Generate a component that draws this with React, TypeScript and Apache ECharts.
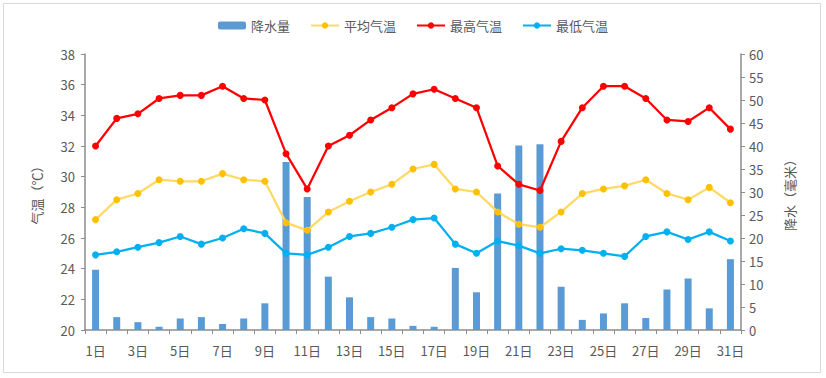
import React, { useEffect, useRef } from "react";
import * as echarts from "echarts";

const days = Array.from({ length: 31 }, (_, i) => `${i + 1}日`);
const rainfall = [13.1, 2.8, 1.7, 0.7, 2.5, 2.8, 1.3, 2.5, 5.8, 36.5, 28.9, 11.6, 7.1, 2.8, 2.5, 0.9, 0.7, 13.5, 8.2, 29.7, 40.1, 40.4, 9.4, 2.2, 3.6, 5.8, 2.6, 8.8, 11.2, 4.7, 15.4];
const avgTemp = [27.2, 28.5, 28.9, 29.8, 29.7, 29.7, 30.2, 29.8, 29.7, 27.0, 26.5, 27.7, 28.4, 29.0, 29.5, 30.5, 30.8, 29.2, 29.0, 27.7, 26.9, 26.7, 27.7, 28.9, 29.2, 29.4, 29.8, 28.9, 28.5, 29.3, 28.3];
const maxTemp = [32.0, 33.8, 34.1, 35.1, 35.3, 35.3, 35.9, 35.1, 35.0, 31.5, 29.2, 32.0, 32.7, 33.7, 34.5, 35.4, 35.7, 35.1, 34.5, 30.7, 29.5, 29.1, 32.3, 34.5, 35.9, 35.9, 35.1, 33.7, 33.6, 34.5, 33.1];
const minTemp = [24.9, 25.1, 25.4, 25.7, 26.1, 25.6, 26.0, 26.6, 26.3, 25.0, 24.9, 25.4, 26.1, 26.3, 26.7, 27.2, 27.3, 25.6, 25.0, 25.8, 25.5, 25.0, 25.3, 25.2, 25.0, 24.8, 26.1, 26.4, 25.9, 26.4, 25.8];

const FONT = "'Noto Sans CJK SC', 'Noto Sans', sans-serif";
const TXT = "#595959";
const AX = "#8c8c8c";

export default function App() {
  const ref = useRef<HTMLDivElement>(null);
  useEffect(() => {
    const chart = echarts.init(ref.current!, null, { renderer: "svg" });
    const lineSeries = (name: string, data: number[], lineColor: string, dotColor: string) => ({
      name,
      type: "line",
      yAxisIndex: 0,
      data,
      symbol: "circle",
      symbolSize: 7,
      lineStyle: { color: lineColor, width: 2.25 },
      itemStyle: { color: dotColor },
      z: 3,
    });
    chart.setOption({
      animation: false,
      textStyle: { fontFamily: FONT },
      graphic: [
        {
          type: "rect",
          shape: { x: 3.5, y: 3.5, width: 817, height: 369 },
          style: { fill: "none", stroke: "#d9d9d9", lineWidth: 1 },
          silent: true,
        },
      ],
      legend: {
        top: 14,
        left: "center",
        itemWidth: 28,
        itemHeight: 8,
        itemGap: 20,
        textStyle: { color: TXT, fontSize: 13, fontFamily: FONT },
        data: ["降水量", "平均气温", "最高气温", "最低气温"],
      },
      grid: { left: 85, right: 85, top: 54, bottom: 48 },
      xAxis: {
        type: "category",
        data: days,
        boundaryGap: true,
        axisLine: { lineStyle: { color: AX, width: 1.5 } },
        axisTick: { show: true, interval: 0, length: 4, lineStyle: { color: AX } },
        axisLabel: { interval: 1, color: TXT, fontSize: 13, margin: 14, fontFamily: FONT },
      },
      yAxis: [
        {
          type: "value",
          min: 20,
          max: 38,
          interval: 2,
          name: "气温（℃）",
          nameLocation: "middle",
          nameRotate: 90,
          nameGap: 42,
          nameTextStyle: { color: TXT, fontSize: 13, fontFamily: FONT },
          splitLine: { show: false },
          axisLine: { show: true, lineStyle: { color: AX, width: 1.5 } },
          axisTick: { show: true, length: 4, lineStyle: { color: AX } },
          axisLabel: { color: TXT, fontSize: 13, margin: 10, fontFamily: FONT },
        },
        {
          type: "value",
          min: 0,
          max: 60,
          interval: 5,
          position: "right",
          name: "降水（毫米）",
          nameLocation: "middle",
          nameRotate: 90,
          nameGap: 42,
          nameTextStyle: { color: TXT, fontSize: 13, fontFamily: FONT },
          splitLine: { show: false },
          axisLine: { show: true, lineStyle: { color: AX, width: 1.5 } },
          axisTick: { show: true, length: 4, lineStyle: { color: AX } },
          axisLabel: { color: TXT, fontSize: 13, margin: 8, fontFamily: FONT },
        },
      ],
      series: [
        {
          name: "降水量",
          type: "bar",
          yAxisIndex: 1,
          data: rainfall,
          barWidth: 7,
          itemStyle: { color: "#5b9bd5" },
          z: 2,
        },
        lineSeries("平均气温", avgTemp, "#ffd966", "#ffc000"),
        lineSeries("最高气温", maxTemp, "#ff0000", "#ff0000"),
        lineSeries("最低气温", minTemp, "#00b0f0", "#00b0f0"),
      ],
    });
    return () => chart.dispose();
  }, []);
  return (
    <div style={{ position: "fixed", left: 0, top: 0, width: 826, height: 378, background: "#fff" }}>
      <div ref={ref} style={{ width: 826, height: 378 }} />
    </div>
  );
}
